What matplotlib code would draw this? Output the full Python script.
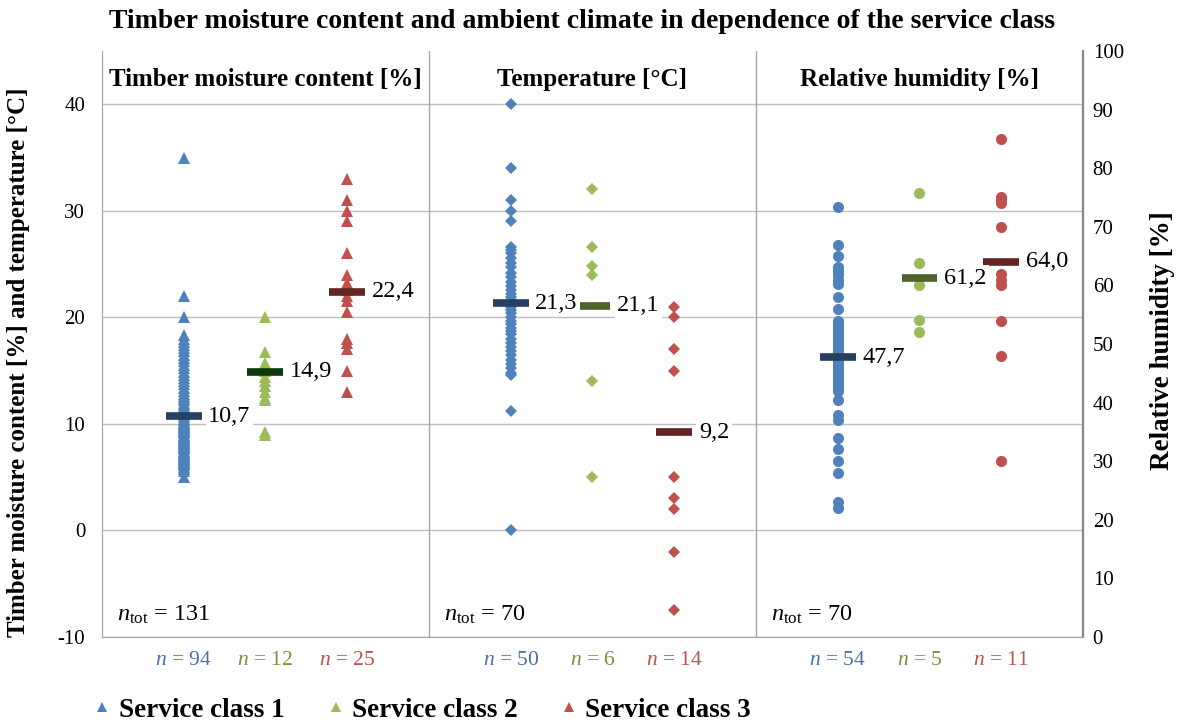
import matplotlib
matplotlib.use('Agg')
import matplotlib.pyplot as plt
from matplotlib.lines import Line2D

plt.rcParams['font.family'] = ['Liberation Serif', 'DejaVu Serif']
plt.rcParams['mathtext.fontset'] = 'custom'
plt.rcParams['mathtext.rm'] = 'Liberation Serif'
plt.rcParams['mathtext.it'] = 'Liberation Serif:italic'
plt.rcParams['axes.unicode_minus'] = False

# --- data ---
panels = ['Timber moisture content [%]', 'Temperature [°C]', 'Relative humidity [%]']
classes = ['Service class 1', 'Service class 2', 'Service class 3']

# timber moisture content [%]
mc_sc1 = [35, 22, 20, 18.3, 18, 17.7, 17.4, 17.1, 16.8, 16.5, 16.2, 15.9, 15.5, 15.2,
          14.9, 14.6, 14.3, 14, 13.7, 13.4, 13.1, 12.8, 12.6, 12.4, 12.2, 12, 11.8,
          11.6, 11.4, 11.2, 11, 10.9, 10.8, 10.6, 10.5, 10.4, 10.2, 10.1, 10, 9.9,
          9.8, 9.7, 9.6, 9.5, 9.4, 9.3, 9.2, 9.1, 9, 8.9, 8.8, 8.7, 8.6, 8.5, 8.4,
          8.3, 8.2, 8.1, 8, 7.9, 7.8, 7.7, 7.6, 7.5, 7.4, 7.3, 7.2, 7.1, 7, 6.9,
          6.8, 6.7, 6.6, 6.5, 6.4, 6.3, 6.2, 6.1, 6, 5.8, 5.6, 5]
mc_sc2 = [20, 16.7, 15.7, 15, 14.4, 14, 13.6, 13, 12.4, 12.2, 9.2, 9]
mc_sc3 = [33, 31, 30, 29, 26, 24, 23.2, 22.6, 22, 21.5, 20.5, 18, 17.6, 17, 15, 13]

# temperature [°C]
t_sc1 = [40, 34, 31, 30, 29, 26.6, 26.3, 26, 25.6, 25.1, 24.7, 24.2, 23.8, 23.3, 22.9,
         22.6, 22.2, 21.9, 21.6, 21.3, 21, 20.7, 20.4, 20, 19.7, 19.4, 19, 18.7, 18.4,
         18, 17.6, 17.2, 16.8, 16.5, 16, 15.6, 15.2, 14.8, 14.6, 11.2, 0]
t_sc2 = [32, 26.6, 24.8, 24, 14, 5]
t_sc3 = [21, 20, 17, 15, 5, 3, 2, -2, -7.5]

# relative humidity [%]
rh_sc1 = [73.3, 66.9, 65, 63.2, 62.5, 61.8, 61, 60.3, 58, 56, 54, 53.5, 53, 52.5,
          52, 51.5, 51, 50.5, 50, 49.5, 49, 48.5, 48, 47.5, 47, 46.5, 46, 45.5, 45,
          44.5, 44, 43.5, 43, 42.5, 42, 40.4, 37.8, 37, 34, 32, 30, 28, 23, 22]
rh_sc2 = [75.7, 63.9, 60, 54.1, 52]
rh_sc3 = [85, 75, 74.5, 74, 70, 62, 61, 60, 54, 48, 30]

means_mc = [10.7, 14.9, 22.4]
means_t = [21.3, 21.1, 9.2]
means_rh = [47.7, 61.2, 64.0]

n_counts = [[94, 12, 25], [50, 6, 14], [54, 5, 11]]
n_tot = [131, 70, 70]

colors = ['#4F81BD', '#9BBB59', '#C0504D']
text_colors = ['#4A6FAB', '#77933C', '#C0504D']
mean_colors = [['#254061', '#0B3B0B', '#632523'],
               ['#254061', '#4F6228', '#632523'],
               ['#254061', '#4F6228', '#632523']]
markers = ['^', 'D', 'o']
msizes = [8, 6, 8]

fig = plt.figure(figsize=(11.84, 7.24), dpi=100)
ax = fig.add_axes([0.0861, 0.1202, 0.8286, 0.8094])
ax2 = ax.twinx()

ax.set_xlim(0, 12)
ax.set_ylim(-10, 45)
ax2.set_ylim(0, 100)
ax.set_yticks(range(-10, 41, 10))
ax2.set_yticks(range(0, 101, 10))
ax.set_xticks([])
ax.tick_params(axis='y', length=0, labelsize=15, pad=12)
ax2.tick_params(axis='y', length=0, labelsize=15, pad=7)
ax.grid(axis='y', color='#BFBFBF', lw=1)
ax.set_axisbelow(True)
for a in (ax, ax2):
    a.spines['top'].set_visible(False)
    a.spines['left'].set_color('#A6A6A6')
    a.spines['bottom'].set_color('#A6A6A6')
ax2.spines['right'].set_color('#868686')
ax2.spines['right'].set_linewidth(1.6)
ax.spines['right'].set_visible(False)
for xd in (4, 8):
    ax.axvline(xd, color='#A6A6A6', lw=1)

groups = [(ax, [mc_sc1, mc_sc2, mc_sc3], means_mc),
          (ax, [t_sc1, t_sc2, t_sc3], means_t),
          (ax2, [rh_sc1, rh_sc2, rh_sc3], means_rh)]

for p, (a, series, means) in enumerate(groups):
    for c in range(3):
        x = 4 * p + 1 + c
        vals = series[c]
        a.plot([x] * len(vals), vals, ls='none', marker=markers[p], ms=msizes[p],
               mew=0, color=colors[c], zorder=3)
        a.plot([x - 0.22, x + 0.22], [means[c], means[c]], color=mean_colors[p][c],
               lw=5.5, solid_capstyle='butt', zorder=4)
        a.text(x + 0.3, means[c], ('%.1f' % means[c]).replace('.', ','), fontsize=17.5,
               va='center', ha='left', zorder=5,
               bbox=dict(boxstyle='square,pad=0.1', fc='white', ec='none'))
        ax.text(x, -0.04, '$n$ = %d' % n_counts[p][c], transform=ax.get_xaxis_transform(),
                ha='center', va='center', fontsize=15.5, color=text_colors[c])
    ax.text(4 * p + 2, 0.951, panels[p], transform=ax.get_xaxis_transform(),
            ha='center', va='center', fontsize=18, fontweight='bold')
    ax.text(4 * p + 0.18, 0.028, r'$n_{\mathrm{tot}}$ = %d' % n_tot[p],
            transform=ax.get_xaxis_transform(), ha='left', va='baseline', fontsize=17.5)

fig.text(0.4916, 0.970, 'Timber moisture content and ambient climate in dependence of the service class',
         ha='center', va='center', fontsize=20, fontweight='bold')
fig.text(0.016, 0.5, 'Timber moisture content [%] and temperature [°C]', rotation=90,
         ha='center', va='center', fontsize=18, fontweight='bold')
fig.text(0.982, 0.53, 'Relative humidity [%]', rotation=90,
         ha='center', va='center', fontsize=19.5, fontweight='bold')

handles = [Line2D([], [], ls='none', marker='^', ms=7, mew=0, color=col) for col in colors]
fig.legend(handles, classes, loc='center left', bbox_to_anchor=(0.059, 0.019), ncol=3,
           frameon=False, handlelength=0.6, handletextpad=0.3, columnspacing=1.6,
           prop={'size': 19.5, 'weight': 'bold'})

fig.savefig('out.png', dpi=100)
